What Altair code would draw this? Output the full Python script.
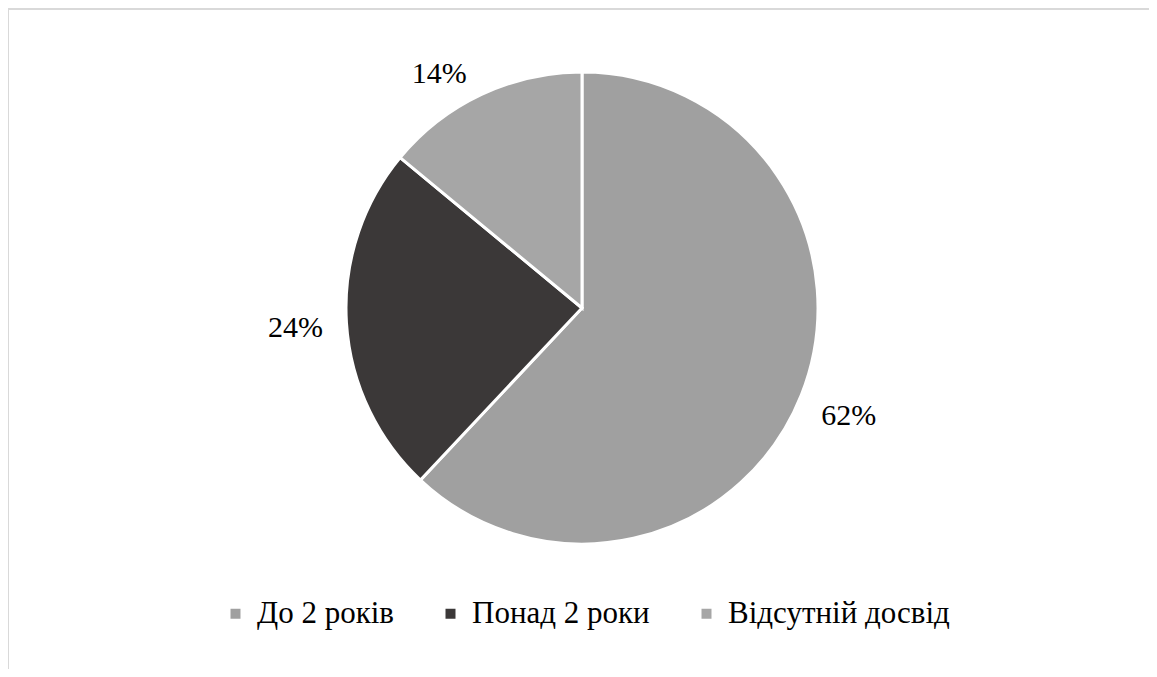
import altair as alt
import pandas as pd

categories = ["До 2 років", "Понад 2 роки", "Відсутній досвід"]
values = [62, 24, 14]
labels = ["62%", "24%", "14%"]
colors = ["#a0a0a0", "#3b3838", "#a6a6a6"]

df = pd.DataFrame({"cat": categories, "val": values, "lab": labels, "idx": list(range(len(categories)))})

W, H = 1141, 661
CX, CY = 574, 300
R = 236
FONT = "Liberation Serif"

pie = alt.Chart(df).mark_arc(outerRadius=R, stroke="white", strokeWidth=3).encode(
    theta=alt.Theta("val:Q", stack=True),
    order=alt.Order("idx:Q"),
    x=alt.value(CX),
    y=alt.value(CY),
    color=alt.Color(
        "cat:N",
        sort=categories,
        scale=alt.Scale(domain=categories, range=colors),
        legend=alt.Legend(
            title=None,
            orient="none",
            direction="horizontal",
            legendX=212,
            legendY=590,
            symbolType="square",
            symbolSize=100,
            symbolStrokeWidth=0,
            labelFont=FONT,
            labelFontSize=31,
            labelColor="#000000",
            labelOffset=6,
            columnPadding=41,
            padding=0,
            labelLimit=400,
        ),
    ),
)

# label positions: midpoint of each slice on the same 0-100 theta scale
lab_base = alt.Chart(df).transform_window(
    cum="sum(val)", sort=[alt.SortField("idx", order="ascending")], frame=[None, 0]
).transform_calculate(
    mid="datum.cum - datum.val / 2"
).encode(
    theta=alt.Theta("mid:Q", stack=None, scale=alt.Scale(domain=[0, 100], range=[0, 6.283185307179586])),
    x=alt.value(CX),
    y=alt.value(CY),
    text="lab:N",
)

txt_main = lab_base.transform_filter(
    alt.datum.cat != "Відсутній досвід"
).mark_text(radius=287, font=FONT, fontSize=30, color="#000000", align="center", baseline="middle", dy=2)

txt_small = lab_base.transform_filter(
    alt.datum.cat == "Відсутній досвід"
).mark_text(radius=272, font=FONT, fontSize=30, color="#000000", align="center", baseline="middle", dx=-27, dy=12)

border_top = alt.Chart(df).mark_rule(color="#d9d9d9", strokeWidth=2).encode(
    x=alt.value(0), x2=alt.value(W), y=alt.value(1)
)
border_left = alt.Chart(df).mark_rule(color="#d9d9d9", strokeWidth=2).encode(
    x=alt.value(0), y=alt.value(1), y2=alt.value(H)
)

chart = alt.layer(border_top, border_left, pie, txt_main, txt_small).resolve_scale(
    theta="independent"
).properties(
    width=W, height=H, padding=0, autosize=alt.AutoSizeParams(type="none")
).configure_view(stroke=None).configure(background="white")

chart.save("out.html", embed_options={"renderer": "svg", "actions": False})
